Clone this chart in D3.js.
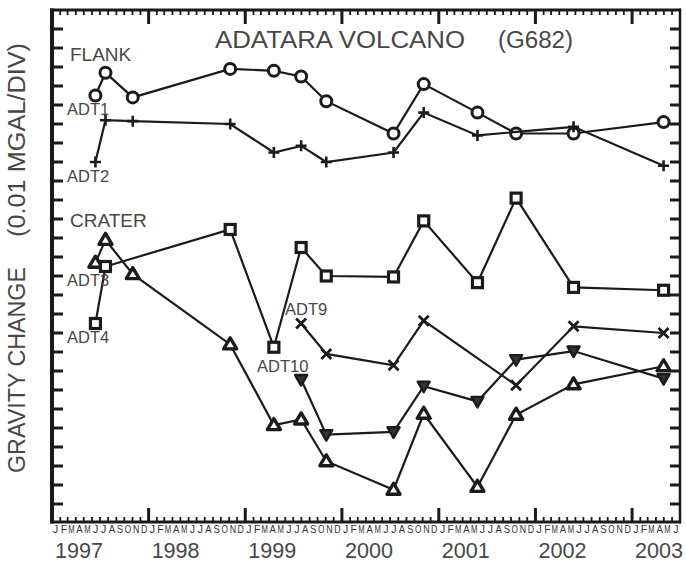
<!DOCTYPE html>
<html>
<head>
<meta charset="utf-8">
<script src="https://cdn.jsdelivr.net/npm/d3@7"></script>
<style>
  html, body { margin: 0; padding: 0; background: #fff; }
  svg { display: block; }
  text { font-family: "Liberation Sans", Arial, Helvetica, sans-serif; fill: #474747; }
</style>
</head>
<body>
<svg id="chart" width="686" height="562"></svg>
<script>
// Survey dates (one entry per campaign)
const surveyDates = [
  "1997-06-14", "1997-07-22", "1997-11-02", "1998-11-05", "1999-04-19",
  "1999-07-31", "1999-11-03", "2000-07-14", "2000-11-05", "2001-05-27",
  "2001-10-20", "2002-05-25", "2003-04-30"
];

// Gravity values in divisions (0.01 mGal per division); null = not measured
const adt1  = [22.5, 23.7, 22.4, 23.9, 23.8, 23.5, 22.2, 20.5, 23.1, 21.6, 20.5, 20.5, 21.1];
const adt2  = [19.0, 21.2, 21.15, 21.0, 19.5, 19.85, 19.0, 19.5, 21.6, 20.4, null, 20.85, 18.8];
const adt3  = [13.7, 14.9, 13.1, 9.4, 5.15, 5.45, 3.25, 1.75, 5.75, 1.9, 5.7, 7.3, 8.25];
const adt4  = [10.5, 13.5, null, 15.45, 9.25, 14.5, 13.0, 12.95, 15.9, 12.65, 17.1, 12.4, 12.25];
const adt9  = [null, null, null, null, null, 10.5, 8.9, 8.3, 10.65, null, 7.25, 10.35, 10.0];
const adt10 = [null, null, null, null, null, 7.55, 4.65, 4.8, 7.2, 6.4, 8.6, 9.05, 7.6];

const years = [1997, 1998, 1999, 2000, 2001, 2002, 2003];
const monthLetters = ["J","F","M","A","M","J","J","A","S","O","N","D"];

const seriesList = [
  { name: "ADT1",  values: adt1,  marker: "circle" },
  { name: "ADT2",  values: adt2,  marker: "plus" },
  { name: "ADT3",  values: adt3,  marker: "triangle" },
  { name: "ADT4",  values: adt4,  marker: "square" },
  { name: "ADT9",  values: adt9,  marker: "cross" },
  { name: "ADT10", values: adt10, marker: "triangleDown" }
];

const labels = [
  { text: "FLANK",  x: 70,  y: 61,  size: 19 },
  { text: "ADT1",   x: 67,  y: 115, size: 16.5 },
  { text: "ADT2",   x: 67,  y: 182, size: 16.5 },
  { text: "CRATER", x: 70,  y: 227, size: 19 },
  { text: "ADT3",   x: 67,  y: 286, size: 16.5 },
  { text: "ADT4",   x: 67,  y: 343, size: 16.5 },
  { text: "ADT9",   x: 285, y: 315, size: 16.5 },
  { text: "ADT10",  x: 257, y: 372, size: 16.5 }
];

const svg = d3.select("#chart");
const L = 52, R = 680, T = 10, B = 522;
const ink = "#1b1b1b";

const parse = d3.timeParse("%Y-%m-%d");
const x = d3.scaleTime()
  .domain([new Date(1997, 0, 1), new Date(2003, 6, 1)])
  .range([L, R]);
const y = d3.scaleLinear().domain([0, 27]).range([523, T]);

// ---- frame -------------------------------------------------------------
const frame = svg.append("g").attr("stroke", ink).attr("fill", "none");
frame.append("line").attr("x1", L).attr("x2", L).attr("y1", T - 1.5).attr("y2", B + 1.5).attr("stroke-width", 4);
frame.append("line").attr("x1", R).attr("x2", R).attr("y1", T - 1.5).attr("y2", B + 1.5).attr("stroke-width", 2.5);
frame.append("line").attr("x1", L - 2).attr("x2", R + 1).attr("y1", T).attr("y2", T).attr("stroke-width", 3);
frame.append("line").attr("x1", L - 2).attr("x2", R + 1).attr("y1", B).attr("y2", B).attr("stroke-width", 3);

// ---- y ticks on both sides --------------------------------------------
const yTicks = d3.range(1, 27);
svg.append("g").selectAll("line").data(yTicks).join("line")
  .attr("x1", L).attr("x2", L + 11)
  .attr("y1", d => y(d)).attr("y2", d => y(d))
  .attr("stroke", ink).attr("stroke-width", 3);
svg.append("g").selectAll("line").data(yTicks).join("line")
  .attr("x1", R - 10).attr("x2", R)
  .attr("y1", d => y(d)).attr("y2", d => y(d))
  .attr("stroke", ink).attr("stroke-width", 3);

// ---- month / year ticks on top and bottom ------------------------------
const months = d3.timeMonth.range(new Date(1997, 0, 1), new Date(2003, 6, 2));
const monthTicks = months.filter(d => d.getMonth() !== 0);
const yearTicks = months.filter(d => d.getMonth() === 0 && d.getFullYear() > 1997);

[[B, -1], [T, 1]].forEach(([base, dir]) => {
  const g = svg.append("g").attr("stroke", ink);
  g.selectAll("line.m").data(monthTicks).join("line").attr("class", "m")
    .attr("x1", d => x(d)).attr("x2", d => x(d))
    .attr("y1", base).attr("y2", base + dir * 5)
    .attr("stroke-width", 1.8);
  g.selectAll("line.y").data(yearTicks).join("line").attr("class", "y")
    .attr("x1", d => x(d)).attr("x2", d => x(d))
    .attr("y1", base).attr("y2", base + dir * 14)
    .attr("stroke-width", 3);
});

// ---- month letters (condensed) and year labels --------------------------
const monthLabelG = svg.append("g");
months.filter(d => d < x.domain()[1]).forEach(d => {
  const mid = new Date(d.getFullYear(), d.getMonth(), 15);
  const letter = monthLetters[d.getMonth()];
  const t = monthLabelG.append("text")
    .attr("x", x(mid)).attr("y", 532.5)
    .attr("text-anchor", "middle")
    .attr("font-size", 10.5)
    .style("fill", "#333")
    .text(letter);
  if (letter !== "J") {
    t.attr("textLength", 6.4).attr("lengthAdjust", "spacingAndGlyphs");
  }
});

svg.append("g").selectAll("text").data(years).join("text")
  .attr("x", d => x(new Date(d, 0, 1)) + 3)
  .attr("y", 558)
  .attr("font-size", 22)
  .attr("textLength", 48).attr("lengthAdjust", "spacingAndGlyphs")
  .text(d => d);

// ---- titles ------------------------------------------------------------
svg.append("text").attr("x", 215).attr("y", 48).attr("font-size", 23.5)
  .attr("textLength", 250).attr("lengthAdjust", "spacingAndGlyphs")
  .text("ADATARA VOLCANO");
svg.append("text").attr("x", 498).attr("y", 48).attr("font-size", 23.5)
  .attr("textLength", 75).attr("lengthAdjust", "spacingAndGlyphs")
  .text("(G682)");

const yLab = svg.append("g").attr("transform", "translate(25,0) rotate(-90)");
yLab.append("text").attr("x", -473).attr("y", 0).attr("font-size", 23)
  .attr("textLength", 206).attr("lengthAdjust", "spacingAndGlyphs")
  .text("GRAVITY CHANGE");
yLab.append("text").attr("x", -237).attr("y", 0).attr("font-size", 23)
  .attr("textLength", 194).attr("lengthAdjust", "spacingAndGlyphs")
  .text("(0.01 MGAL/DIV)");

// ---- series lines and markers ------------------------------------------
const line = d3.line().x(d => x(d.date)).y(d => y(d.value));

function drawMarker(g, type, cx, cy) {
  if (type === "circle") {
    g.append("circle").attr("cx", cx).attr("cy", cy).attr("r", 5.5)
      .attr("fill", "#fff").attr("stroke", ink).attr("stroke-width", 3);
  } else if (type === "square") {
    g.append("rect").attr("x", cx - 5).attr("y", cy - 5).attr("width", 10).attr("height", 10)
      .attr("fill", "#fff").attr("stroke", ink).attr("stroke-width", 3.2);
  } else if (type === "plus") {
    g.append("path").attr("d", `M${cx - 5.5},${cy}H${cx + 5.5}M${cx},${cy - 5.5}V${cy + 5.5}`)
      .attr("stroke", ink).attr("stroke-width", 2.6).attr("fill", "none");
  } else if (type === "cross") {
    g.append("path").attr("d", `M${cx - 5},${cy - 5}L${cx + 5},${cy + 5}M${cx - 5},${cy + 5}L${cx + 5},${cy - 5}`)
      .attr("stroke", ink).attr("stroke-width", 2.8).attr("fill", "none");
  } else if (type === "triangle") {
    g.append("path").attr("d", `M${cx},${cy - 6.5}L${cx + 6.5},${cy + 4.5}L${cx - 6.5},${cy + 4.5}Z`)
      .attr("fill", "#fff").attr("stroke", ink).attr("stroke-width", 3.4).attr("stroke-linejoin", "round");
  } else if (type === "triangleDown") {
    g.append("path").attr("d", `M${cx},${cy + 6}L${cx + 6},${cy - 4.5}L${cx - 6},${cy - 4.5}Z`)
      .attr("fill", "#333").attr("stroke", ink).attr("stroke-width", 2.4).attr("stroke-linejoin", "round");
  }
}

seriesList.forEach(s => {
  const pts = s.values
    .map((v, i) => ({ date: parse(surveyDates[i]), value: v }))
    .filter(p => p.value !== null);
  const g = svg.append("g").attr("class", "series " + s.name);
  g.append("path").datum(pts).attr("d", line)
    .attr("fill", "none").attr("stroke", ink).attr("stroke-width", 2.2);
  pts.forEach(p => drawMarker(g, s.marker, x(p.date), y(p.value)));
});

// ---- station / group labels -------------------------------------------
svg.append("g").selectAll("text").data(labels).join("text")
  .attr("x", d => d.x).attr("y", d => d.y)
  .attr("font-size", d => d.size)
  .text(d => d.text);
</script>
</body>
</html>
